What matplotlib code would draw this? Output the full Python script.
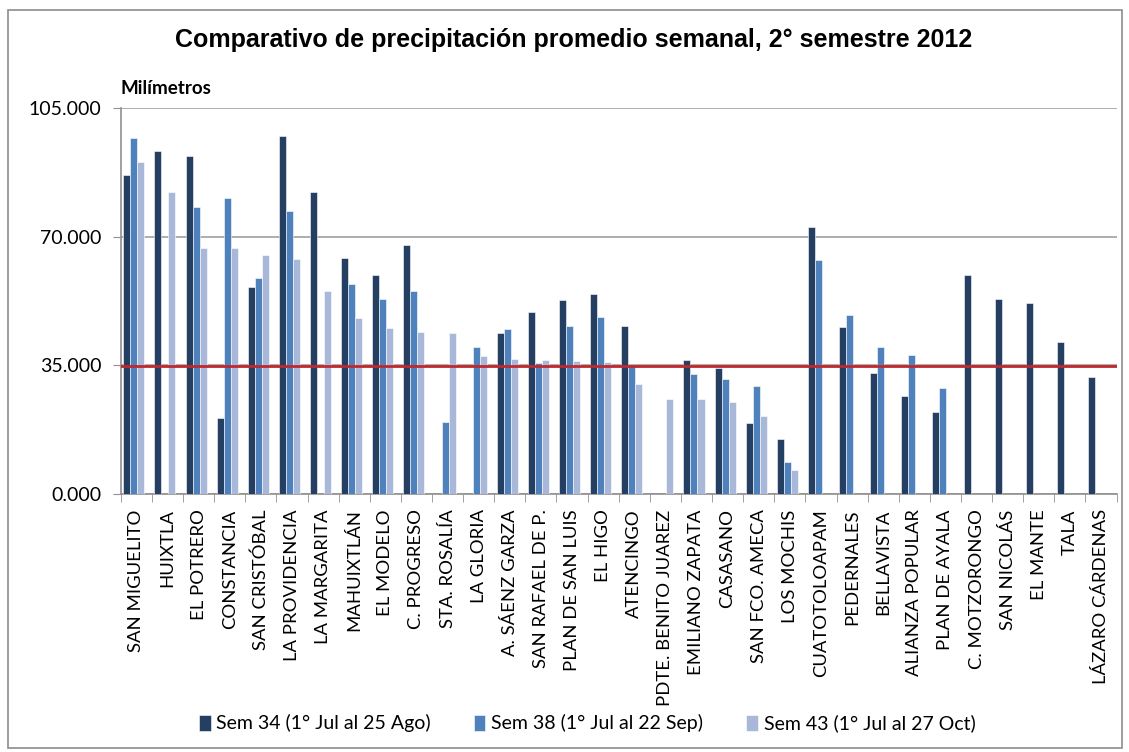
import numpy as np
import matplotlib
matplotlib.use("Agg")
import matplotlib.pyplot as plt
from matplotlib.patches import Rectangle

# Estaciones y precipitación promedio semanal (mm)
estaciones = ["SAN MIGUELITO", "HUIXTLA", "EL POTRERO", "CONSTANCIA", "SAN CRISTÓBAL",
              "LA PROVIDENCIA", "LA MARGARITA", "MAHUIXTLÁN", "EL MODELO", "C. PROGRESO",
              "STA. ROSALÍA", "LA GLORIA", "A. SÁENZ GARZA", "SAN RAFAEL DE P.",
              "PLAN DE SAN LUIS", "EL HIGO", "ATENCINGO", "PDTE. BENITO JUAREZ",
              "EMILIANO ZAPATA", "CASASANO", "SAN FCO. AMECA", "LOS MOCHIS",
              "CUATOTOLOAPAM", "PEDERNALES", "BELLAVISTA", "ALIANZA POPULAR",
              "PLAN DE AYALA", "C. MOTZORONGO", "SAN NICOLÁS", "EL MANTE", "TALA",
              "LÁZARO CÁRDENAS"]

sem34 = [86.8, 93.5, 92.1, 20.7, 56.3, 97.4, 82.1, 64.3, 59.6, 67.9,
         0, 0, 43.8, 49.5, 52.7, 54.4, 45.8, 0, 36.5, 34.3, 19.3, 15.0,
         72.6, 45.6, 32.9, 26.6, 22.4, 59.6, 53.0, 51.9, 41.4, 31.8]
sem38 = [97.0, 0, 78.0, 80.5, 58.7, 77.0, 0, 57.2, 53.0, 55.2,
         19.6, 40.0, 45.0, 35.7, 45.8, 48.3, 34.8, 0, 32.6, 31.2, 29.3, 8.6,
         63.7, 48.8, 40.0, 37.8, 28.8, 0, 0, 0, 0, 0]
sem43 = [90.5, 82.1, 67.0, 67.0, 65.1, 64.0, 55.2, 48.0, 45.2, 44.1,
         43.8, 37.6, 36.8, 36.5, 36.2, 35.9, 29.9, 25.9, 25.9, 25.1, 21.2, 6.5,
         0, 0, 0, 0, 0, 0, 0, 0, 0, 0]
promedio = 34.8

series = [("Sem 34 (1° Jul al 25 Ago)", sem34, "#243F62"),
          ("Sem 38 (1° Jul al 22 Sep)", sem38, "#4F81BD"),
          ("Sem 43 (1° Jul al 27 Oct)", sem43, "#A9B8D9")]

plt.rcParams["font.family"] = ["Lato", "DejaVu Sans"]

fig = plt.figure(figsize=(11.29, 7.52), dpi=100)
ax = fig.add_axes([0.107, 0.343, 0.882, 0.513])

x = np.arange(len(estaciones))
w = 0.225
for i, (nombre, vals, color) in enumerate(series):
    v = np.array(vals, dtype=float)
    v[v == 0] = np.nan  # sin dato -> sin barra
    ax.bar(x + (i - 1) * w - 0.08, v, width=w, color=color, label=nombre,
           edgecolor="white", linewidth=0.4, zorder=3)

ax.axhline(promedio, color="#C0282D", linewidth=2, zorder=4)

ax.set_xlim(-0.5, len(estaciones) - 0.5)
ax.set_ylim(0, 105)
ax.set_yticks([0, 35, 70, 105])
ax.set_yticklabels(["0.000", "35.000", "70.000", "105.000"], fontsize=14)
ax.yaxis.grid(True, color="#A0A0A0", linewidth=1.2, zorder=0)
ax.set_xticks(x)
ax.set_xticklabels(estaciones, rotation=90, fontsize=13.3, va="top")
ax.set_xticks(np.arange(-0.5, len(estaciones)), minor=True)
ax.tick_params(axis="x", which="major", length=0, pad=11)
ax.tick_params(axis="x", which="minor", length=6, color="#909090")
ax.tick_params(axis="y", length=6, color="#909090", pad=8)
for s in ["top", "right"]:
    ax.spines[s].set_visible(False)
for s in ["left", "bottom"]:
    ax.spines[s].set_color("#909090")
    ax.spines[s].set_linewidth(1.2)

fig.text(0.508, 0.947, "Comparativo de precipitación promedio semanal, 2° semestre 2012",
         ha="center", va="center", fontsize=18, fontweight="bold",
         family="Liberation Sans")
fig.text(0.107, 0.882, "Milímetros", ha="left", va="center", fontsize=13.5,
         fontweight="bold")

fig.legend(loc="center", bbox_to_anchor=(0.52, 0.038), ncol=3, frameon=False,
           fontsize=14, handlelength=0.6, handleheight=0.9, columnspacing=2.2,
           handletextpad=0.3)

fig.patches.append(Rectangle((0.007, 0.005), 0.987, 0.982, transform=fig.transFigure,
                             fill=False, edgecolor="#8C8C8C", linewidth=1.2))

plt.savefig("out.png", dpi=100)
